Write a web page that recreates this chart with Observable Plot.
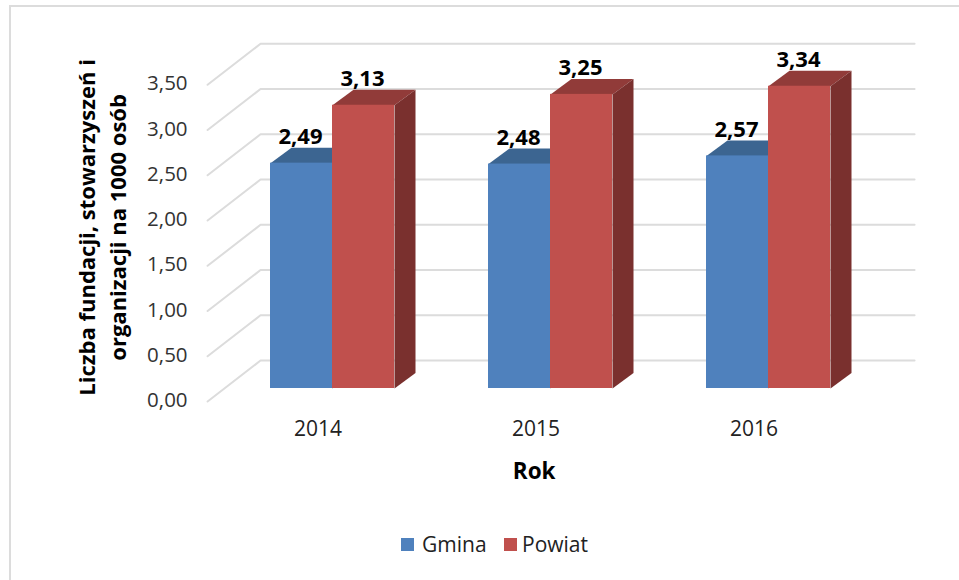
<!DOCTYPE html>
<html lang="pl">
<head>
<meta charset="utf-8">
<script src="https://cdn.jsdelivr.net/npm/d3@7"></script>
<script src="https://cdn.jsdelivr.net/npm/@observablehq/plot@0.6"></script>
<style>
html,body{margin:0;padding:0;background:#fff;}
#frame{position:absolute;left:9px;top:5px;width:950px;height:575px;box-sizing:border-box;border-left:2px solid #dcdcdc;border-top:2px solid #dcdcdc;}
#chart{position:absolute;left:0;top:0;width:959px;height:510px;}
#chart svg{background:transparent;}
#legend{position:absolute;left:0;top:510px;width:959px;height:70px;font:21px "Open Sans",sans-serif;color:#222;}
#legend span{position:absolute;top:23px;line-height:22px;}
#legend i{position:absolute;top:28px;width:13px;height:13px;}
</style>
</head>
<body>
<div id="frame"></div>
<div id="chart"></div>
<div id="legend"></div>
<script>
const years = ["2014", "2015", "2016"];
const series = ["Gmina", "Powiat"];
const gmina = [2.49, 2.48, 2.57];
const powiat = [3.13, 3.25, 3.34];
const yTicks = [0, 0.5, 1, 1.5, 2, 2.5, 3, 3.5];
const yTitleLines = ["Liczba fundacji, stowarzyszeń i", "organizacji na 1000 osób"];
const xTitle = "Rok";

const FONT = "'Open Sans', sans-serif";
const fmt = v => v.toFixed(2).replace(".", ",");

// Oblique projection, in scale units: x in group spacings, y in value units.
const barW = 62 / 218, barDX = 21 / 218, barDY = 15.5 / 90.5;
const axisX = -0.573, wallX = -0.330, wallEnd = 2.67;
const axisDY = -0.144, wallDY = 0.309;

const bars = [];
years.forEach((year, i) => {
  bars.push({year, i, series: "Gmina", v: gmina[i], x0: i - barW, x1: i});
  bars.push({year, i, series: "Powiat", v: powiat[i], x0: i, x1: i + barW});
});
const poly = (id, pts) => pts.map(([x, y]) => ({id, x, y}));
const topFace = b => poly(b.series + b.year, [[b.x0, b.v], [b.x1, b.v], [b.x1 + barDX, b.v + barDY], [b.x0 + barDX, b.v + barDY]]);
const sideFace = b => poly(b.series + b.year, [[b.x1, 0], [b.x1 + barDX, barDY], [b.x1 + barDX, b.v + barDY], [b.x1, b.v]]);
const gridPts = yTicks.flatMap(t => [
  {t, x: axisX, y: t + axisDY}, {t, x: wallX, y: t + wallDY}, {t, x: wallEnd, y: t + wallDY}
]);
const ofSeries = s => bars.filter(b => b.series === s);
const face = (data, fill) => Plot.line(data, {x: "x", y: "y", z: "id", fill, stroke: "none", curve: "linear-closed"});

const colors = {
  Gmina: {front: "#4f81bd", top: "#3c6591", side: "#3a618c"},
  Powiat: {front: "#c0504d", top: "#913b39", side: "#7a302e"}
};
const barMarks = s => [
  face(ofSeries(s).flatMap(topFace), colors[s].top),
  face(ofSeries(s).flatMap(sideFace), colors[s].side),
  Plot.rect(ofSeries(s), {x1: "x0", x2: "x1", y1: 0, y2: "v", fill: colors[s].front, inset: 0})
];

const plot = Plot.plot({
  width: 959, height: 510,
  marginTop: 0, marginRight: 0, marginBottom: 0, marginLeft: 0,
  x: {type: "linear", domain: [0, 2], range: [332, 768], axis: null},
  y: {type: "linear", domain: [0, 3.5], range: [388, 71.25], axis: null},
  style: {fontFamily: FONT, background: "transparent", overflow: "visible"},
  marks: [
    Plot.line(gridPts, {x: "x", y: "y", z: "t", stroke: "#dcdcdc", strokeWidth: 2}),
    ...barMarks("Gmina"),
    ...barMarks("Powiat"),
    Plot.text(yTicks, {x: axisX, y: d => d + axisDY, text: fmt, textAnchor: "end", dx: -20, dy: -1, fontSize: 20.5, fill: "#333"}),
    Plot.text(years, {x: (d, i) => i, y: axisDY, text: d => d, dx: -14.5, dy: 28, fontSize: 21, fill: "#222"}),
    Plot.text(bars, {x: b => (b.x0 + b.x1) / 2, y: "v", text: b => fmt(b.v), dx: -1, dy: -26, fontSize: 22, fontWeight: 700, fill: "#000"}),
    Plot.text([xTitle], {x: 0.925, y: axisDY, dy: 70, text: d => d, fontSize: 22.5, fontWeight: 700, fill: "#000"}),
    Plot.text(yTitleLines, {x: axisX, y: 1.78, text: d => d, rotate: -90, dx: -120, fontSize: 22, fontWeight: 700, fill: "#000", filter: (d, i) => i === 0}),
    Plot.text(yTitleLines, {x: axisX, y: 1.78, text: d => d, rotate: -90, dx: -89, fontSize: 22, fontWeight: 700, fill: "#000", filter: (d, i) => i === 1})
  ]
});
document.getElementById("chart").appendChild(plot);

const legend = document.getElementById("legend");
const legendPos = {Gmina: [401, 422], Powiat: [504, 522]};
series.forEach(s => {
  const sw = document.createElement("i");
  sw.style.left = legendPos[s][0] + "px";
  sw.style.background = colors[s].front;
  const t = document.createElement("span");
  t.style.left = legendPos[s][1] + "px";
  t.textContent = s;
  legend.append(sw, t);
});
</script>
</body>
</html>
